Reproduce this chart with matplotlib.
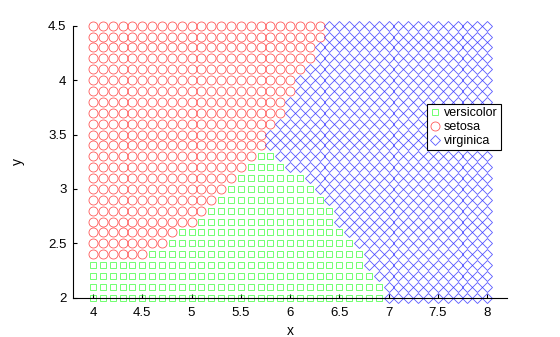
import numpy as np
import matplotlib
matplotlib.use("Agg")
import matplotlib.pyplot as plt

plt.rcParams["font.family"] = ["Liberation Sans", "DejaVu Sans"]
plt.rcParams["font.size"] = 9

# Grid of query points (same grid as the classification example)
x_grid = [4.0, 4.1, 4.2, 4.3, 4.4, 4.5, 4.6, 4.7, 4.8, 4.9,
          5.0, 5.1, 5.2, 5.3, 5.4, 5.5, 5.6, 5.7, 5.8, 5.9,
          6.0, 6.1, 6.2, 6.3, 6.4, 6.5, 6.6, 6.7, 6.8, 6.9,
          7.0, 7.1, 7.2, 7.3, 7.4, 7.5, 7.6, 7.7, 7.8, 7.9, 8.0]
y_rows = [2.0, 2.1, 2.2, 2.3, 2.4, 2.5, 2.6, 2.7, 2.8, 2.9,
          3.0, 3.1, 3.2, 3.3, 3.4, 3.5, 3.6, 3.7, 3.8, 3.9,
          4.0, 4.1, 4.2, 4.3, 4.4, 4.5]

# Per row: largest x classed setosa, smallest x classed virginica
# (3.9 means no setosa in that row)
setosa_max_x = [3.9, 3.9, 3.9, 3.9, 4.5, 4.7, 4.8, 5.0, 5.1, 5.2,
                5.3, 5.4, 5.5, 5.6, 5.7, 5.7, 5.8, 5.9, 5.9, 6.0,
                6.0, 6.1, 6.2, 6.2, 6.3, 6.3]
virginica_min_x = [7.0, 7.0, 6.9, 6.8, 6.8, 6.7, 6.6, 6.5, 6.5, 6.4,
                   6.3, 6.2, 6.0, 5.9, 5.8, 5.8, 5.9, 6.0, 6.0, 6.1,
                   6.1, 6.2, 6.3, 6.3, 6.4, 6.4]

groups = ["versicolor", "setosa", "virginica"]
colors = {"versicolor": (0, 1, 0), "setosa": (1, 0, 0), "virginica": (0, 0, 1)}
markers = {"versicolor": "s", "setosa": "o", "virginica": "D"}
sizes = {"versicolor": 5.0, "setosa": 6.5, "virginica": 4.8}

# build the label of each grid point from the row limits
pts = {g: ([], []) for g in groups}
for yv, smax, vmin in zip(y_rows, setosa_max_x, virginica_min_x):
    for xv in x_grid:
        if xv <= smax + 1e-9:
            g = "setosa"
        elif xv >= vmin - 1e-9:
            g = "virginica"
        else:
            g = "versicolor"
        pts[g][0].append(xv)
        pts[g][1].append(yv)

fig = plt.figure(figsize=(5.6, 3.37), dpi=100)
ax = fig.add_axes([0.131, 0.1166, 0.774, 0.8071])

for g in groups:
    ax.plot(pts[g][0], pts[g][1], linestyle="none", marker=markers[g],
            markersize=sizes[g], markerfacecolor="none",
            markeredgecolor=colors[g] + (0.65,), markeredgewidth=0.6,
            clip_on=False, label=g)

ax.set_xlim(3.8, 8.2)
ax.set_ylim(2, 4.5)
ax.set_xticks([4, 4.5, 5, 5.5, 6, 6.5, 7, 7.5, 8])
ax.set_xticklabels(["4", "4.5", "5", "5.5", "6", "6.5", "7", "7.5", "8"])
ax.set_yticks([2, 2.5, 3, 3.5, 4, 4.5])
ax.set_yticklabels(["2", "2.5", "3", "3.5", "4", "4.5"])
ax.tick_params(direction="in", length=3, width=0.8, labelsize=9.5)
ax.tick_params(axis="x", pad=7)
ax.tick_params(axis="y", pad=5)
ax.spines["top"].set_visible(False)
ax.spines["right"].set_visible(False)
ax.spines["left"].set_linewidth(0.8)
ax.spines["bottom"].set_linewidth(0.8)
ax.set_xlabel("x", fontsize=10, labelpad=3)
ax.set_ylabel("y", fontsize=10, labelpad=17)

leg = ax.legend(loc="upper left", bbox_to_anchor=(0.7625, 0.691),
                bbox_transform=fig.transFigure, fontsize=9,
                frameon=True, fancybox=False, edgecolor="black",
                framealpha=1, borderpad=0.25, labelspacing=0.15,
                handlelength=0.8, handletextpad=0.3, borderaxespad=0,
                numpoints=1)
leg.get_frame().set_linewidth(0.8)

fig.savefig("out.png", dpi=100)
